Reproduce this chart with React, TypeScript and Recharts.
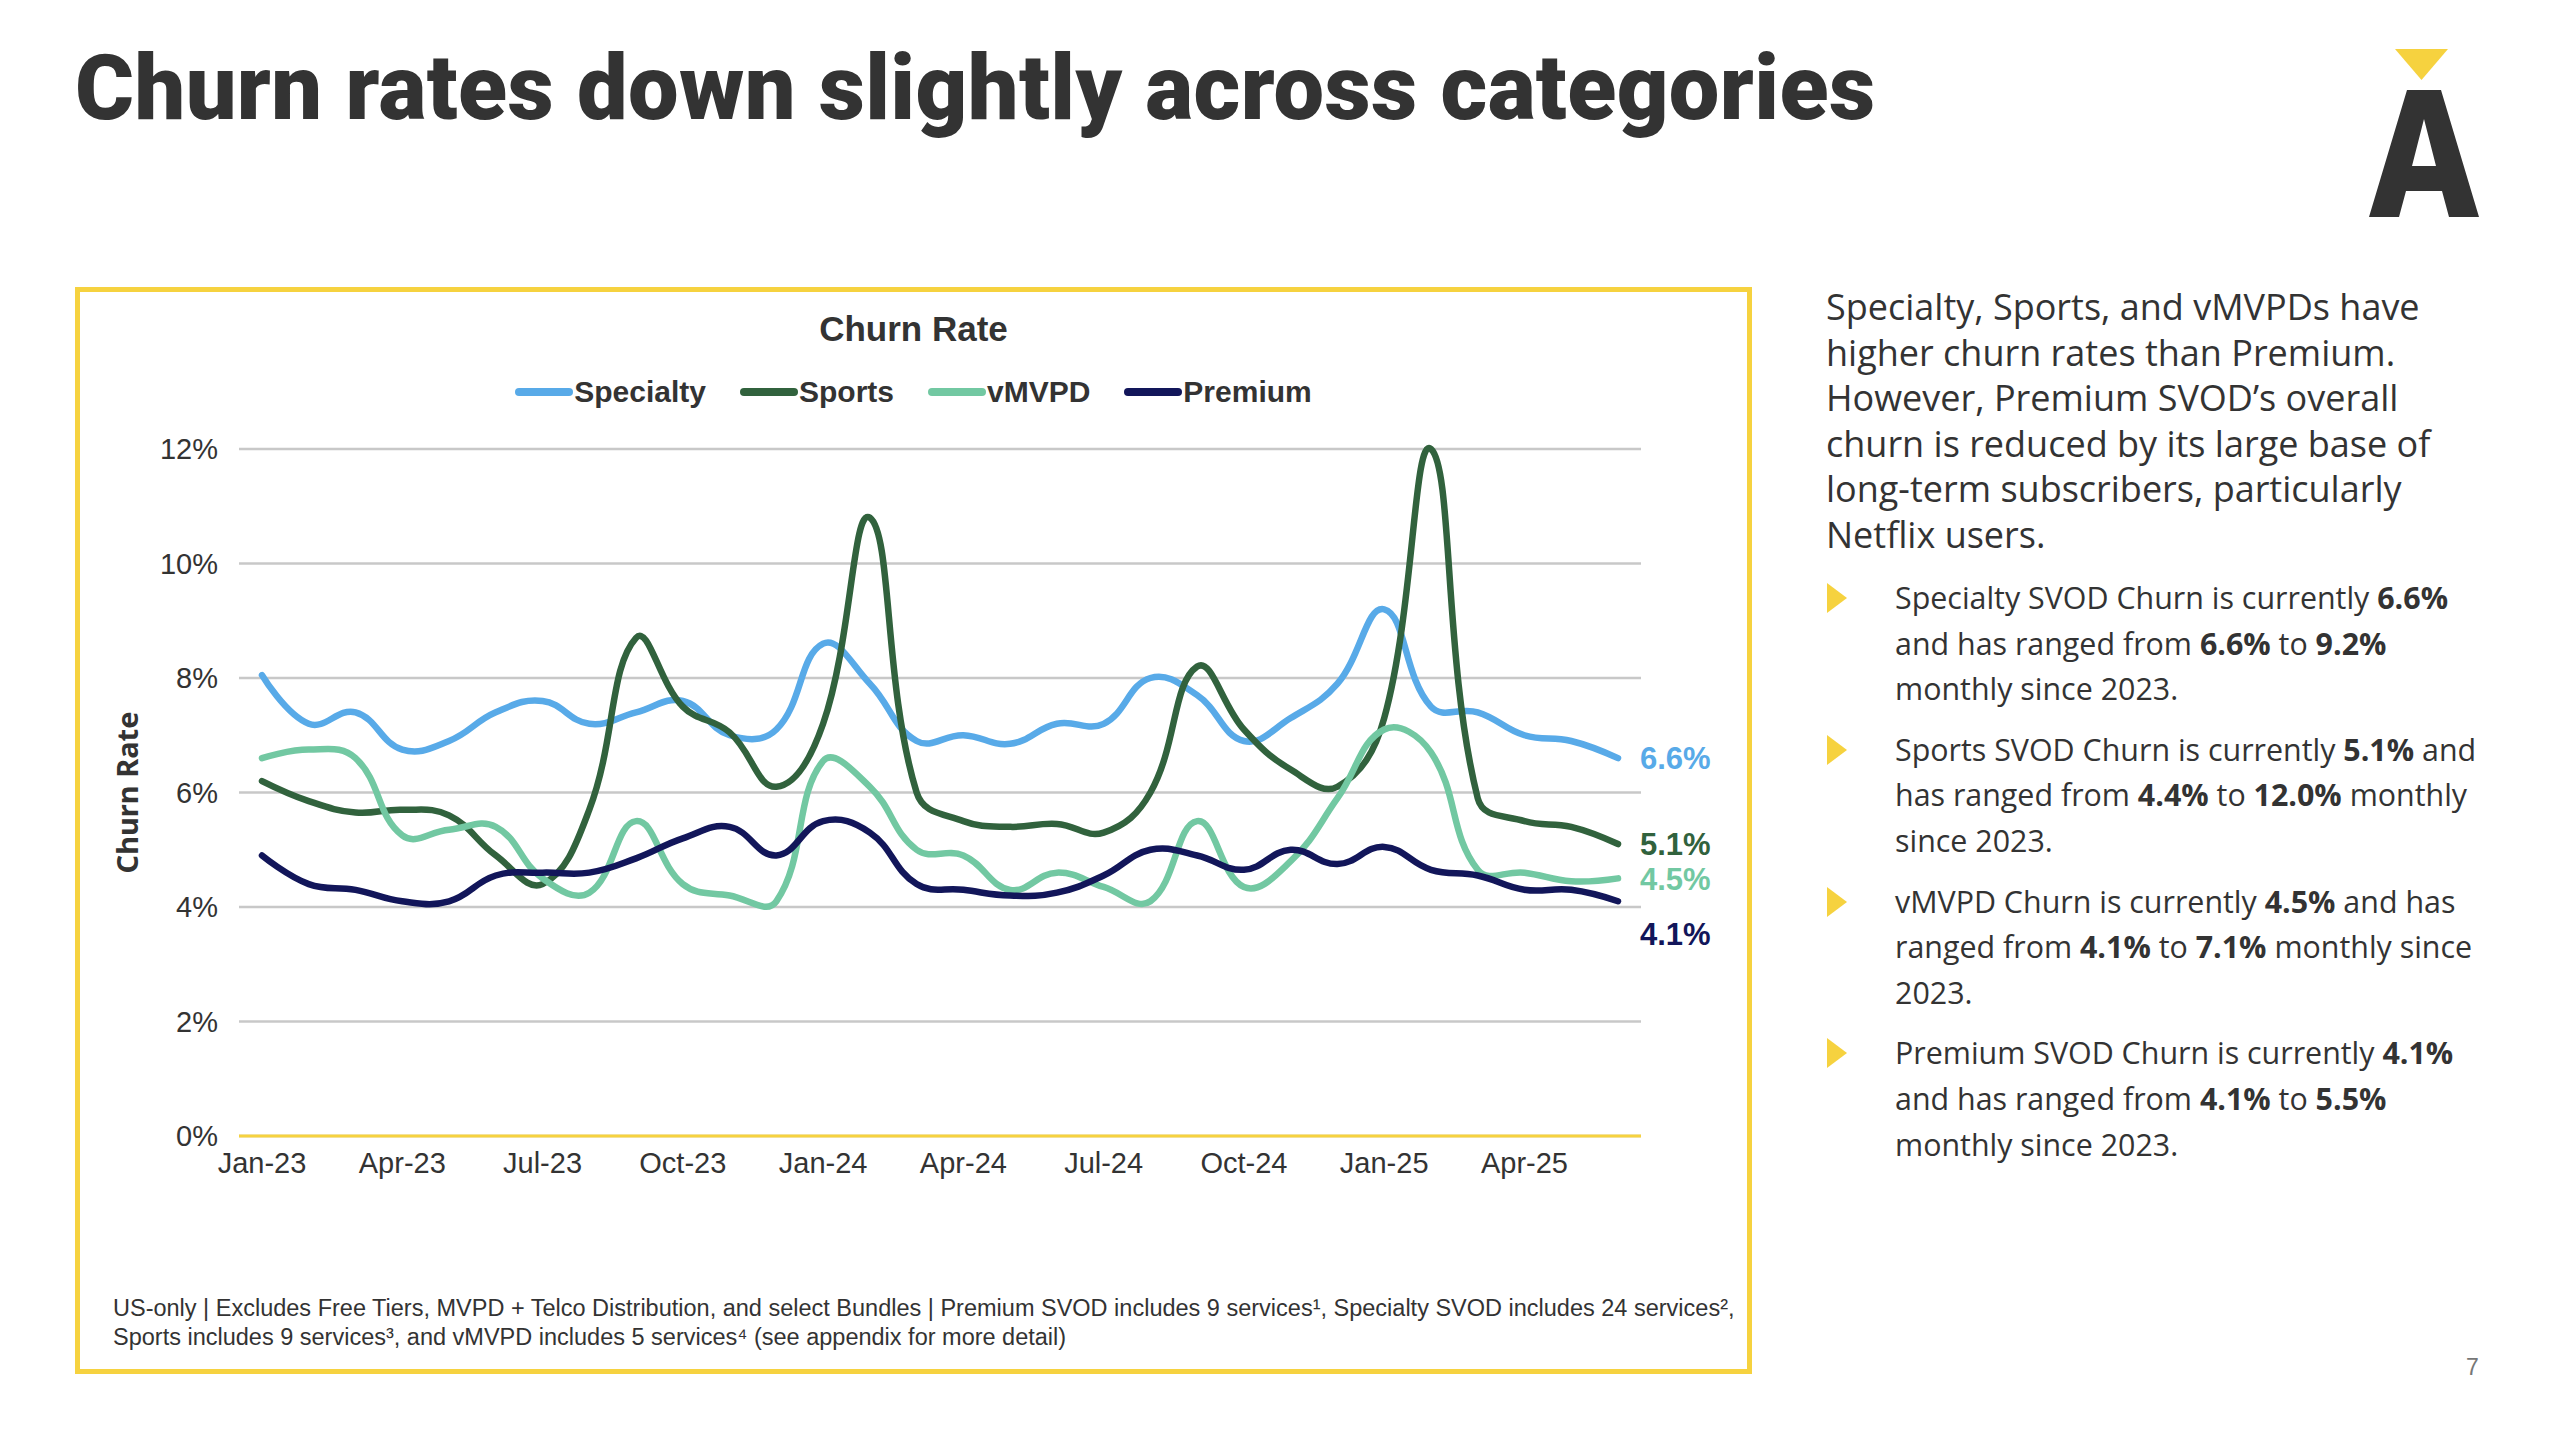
import { LineChart, Line, XAxis, YAxis, CartesianGrid, Legend } from "recharts";

const months = [
  "Jan-23", "Feb-23", "Mar-23", "Apr-23", "May-23", "Jun-23", "Jul-23", "Aug-23", "Sep-23", "Oct-23",
  "Nov-23", "Dec-23", "Jan-24", "Feb-24", "Mar-24", "Apr-24", "May-24", "Jun-24", "Jul-24", "Aug-24",
  "Sep-24", "Oct-24", "Nov-24", "Dec-24", "Jan-25", "Feb-25", "Mar-25", "Apr-25", "May-25", "Jun-25",
];

// monthly churn, %
const specialty = [8.05, 7.2, 7.4, 6.75, 6.9, 7.4, 7.6, 7.2, 7.4, 7.6, 7.0, 7.1, 8.6, 7.9, 6.9, 7.0, 6.85, 7.2, 7.2, 8.0, 7.7, 6.9, 7.3, 7.9, 9.2, 7.5, 7.4, 7.0, 6.9, 6.6];
const sports = [6.2, 5.85, 5.65, 5.7, 5.6, 4.9, 4.4, 5.7, 8.7, 7.5, 7.05, 6.1, 7.2, 10.8, 6.0, 5.5, 5.4, 5.45, 5.3, 6.0, 8.2, 7.1, 6.4, 6.1, 7.3, 12.0, 5.9, 5.5, 5.4, 5.1];
const vmvpd = [6.6, 6.75, 6.6, 5.25, 5.35, 5.4, 4.5, 4.25, 5.5, 4.4, 4.2, 4.1, 6.55, 6.1, 5.0, 4.9, 4.3, 4.6, 4.35, 4.1, 5.5, 4.35, 4.8, 5.9, 7.1, 6.7, 4.65, 4.6, 4.45, 4.5];
const premium = [4.9, 4.4, 4.3, 4.1, 4.1, 4.55, 4.6, 4.6, 4.85, 5.2, 5.4, 4.9, 5.5, 5.3, 4.4, 4.3, 4.2, 4.25, 4.55, 5.0, 4.9, 4.65, 5.0, 4.75, 5.05, 4.65, 4.55, 4.3, 4.3, 4.1];

const yTicks = [0, 2, 4, 6, 8, 10, 12];

const series = [
  { key: "specialty", name: "Specialty", color: "#58AAE8", values: specialty, labelDy: 0 },
  { key: "sports", name: "Sports", color: "#31623D", values: sports, labelDy: 0 },
  { key: "vmvpd", name: "vMVPD", color: "#72C8A2", values: vmvpd, labelDy: 0 },
  { key: "premium", name: "Premium", color: "#12165A", values: premium, labelDy: 33 },
];

const data = months.map((m, i) => {
  const row: Record<string, any> = { month: m };
  series.forEach((s) => (row[s.key] = s.values[i]));
  return row;
});

const YELLOW = "#F6D23F";
const TEXT = "#333333";
const chartFont = "'Liberation Sans', Arial, sans-serif";
const bodyFont = "'Open Sans', 'Noto Sans', sans-serif";

// excel-ish smoothing: bezier with tangents weighted by neighbouring segment lengths
const smooth = (context: any) => {
  let pts: number[][] = [];
  const t = 0.42;
  return {
    areaStart() {},
    areaEnd() {},
    lineStart() {
      pts = [];
    },
    point(x: number, y: number) {
      pts.push([+x, +y]);
    },
    lineEnd() {
      const n = pts.length;
      if (!n) return;
      const before: number[][] = [];
      const after: number[][] = [];
      for (let i = 0; i < n; i++) {
        if (i === 0 || i === n - 1) {
          before[i] = pts[i];
          after[i] = pts[i];
          continue;
        }
        const [x0, y0] = pts[i - 1];
        const [x1, y1] = pts[i];
        const [x2, y2] = pts[i + 1];
        const d01 = Math.hypot(x1 - x0, y1 - y0);
        const d12 = Math.hypot(x2 - x1, y2 - y1);
        const fa = (t * d01) / (d01 + d12);
        const fb = (t * d12) / (d01 + d12);
        before[i] = [x1 - fa * (x2 - x0), y1 - fa * (y2 - y0)];
        after[i] = [x1 + fb * (x2 - x0), y1 + fb * (y2 - y0)];
      }
      context.moveTo(pts[0][0], pts[0][1]);
      for (let i = 0; i < n - 1; i++) {
        context.bezierCurveTo(after[i][0], after[i][1], before[i + 1][0], before[i + 1][1], pts[i + 1][0], pts[i + 1][1]);
      }
    },
  };
};

const endLabel = (color: string, dy: number) => (props: any) => {
  const { x, y, index, value } = props;
  if (index !== months.length - 1) return null;
  return (
    <text
      key={color}
      x={x + 22}
      y={y + dy}
      dy="0.36em"
      fill={color}
      fontSize={31}
      fontWeight={700}
      fontFamily={chartFont}
    >
      {Number(value).toFixed(1)}%
    </text>
  );
};

const LegendRow = () => (
  <div style={{ display: "flex", justifyContent: "center", gap: 34, fontFamily: chartFont }}>
    {series.map((s) => (
      <div key={s.key} style={{ display: "flex", alignItems: "center" }}>
        <div style={{ width: 58, height: 8, borderRadius: 4, background: s.color }} />
        <span style={{ fontSize: 30, fontWeight: 700, color: TEXT, marginLeft: 1 }}>{s.name}</span>
      </div>
    ))}
  </div>
);

const bullets = [
  [
    ["Specialty SVOD Churn is currently ", "6.6%"],
    ["and has ranged from ", "6.6%", " to ", "9.2%"],
    ["monthly since 2023."],
  ],
  [
    ["Sports SVOD Churn is currently ", "5.1%", " and"],
    ["has ranged from ", "4.4%", " to ", "12.0%", " monthly"],
    ["since 2023."],
  ],
  [
    ["vMVPD Churn is currently ", "4.5%", " and has"],
    ["ranged from ", "4.1%", " to ", "7.1%", " monthly since"],
    ["2023."],
  ],
  [
    ["Premium SVOD Churn is currently ", "4.1%"],
    ["and has ranged from ", "4.1%", " to ", "5.5%"],
    ["monthly since 2023."],
  ],
];

const intro = [
  "Specialty, Sports, and vMVPDs have",
  "higher churn rates than Premium.",
  "However, Premium SVOD\u2019s overall",
  "churn is reduced by its large base of",
  "long-term subscribers, particularly",
  "Netflix users.",
];

export default function App() {
  return (
    <div style={{ position: "absolute", left: 0, top: 0, width: 2554, height: 1434, background: "#fff", overflow: "hidden", color: TEXT }}>
      <div style={{ position: "absolute", left: 75, top: 36, fontFamily: "Roboto, sans-serif", fontWeight: 900, fontSize: 90, letterSpacing: 0.4, whiteSpace: "nowrap", color: TEXT }}>
        Churn rates down slightly across categories
      </div>

      {/* logo mark */}
      <svg style={{ position: "absolute", left: 2369, top: 49 }} width={112} height={170}>
        <polygon points="26,0 79,0 52.5,31" fill={YELLOW} />
        <path
          d="M38,41 L72,41 L110,168 L80,168 L73,142 L37,142 L30,168 L0,168 Z M55,70 L67,117 L43,117 Z"
          fill={TEXT}
          fillRule="evenodd"
        />
      </svg>

      <div style={{ position: "absolute", left: 75, top: 287, width: 1677, height: 1087, boxSizing: "border-box", border: `5px solid ${YELLOW}` }} />

      <div style={{ position: "absolute", left: 75, top: 309, width: 1677, textAlign: "center", fontFamily: chartFont, fontWeight: 700, fontSize: 35, color: TEXT }}>
        Churn Rate
      </div>

      <div style={{ position: "absolute", left: 75, top: 287 }}>
        <LineChart width={1677} height={1087} data={data} margin={{ top: 162, right: 111, left: 64, bottom: 178 }}>
          <CartesianGrid vertical={false} stroke="#C8C8C8" strokeWidth={2.5} />
          <XAxis
            dataKey="month"
            interval={2}
            padding={{ left: 23, right: 23 }}
            tickLine={false}
            axisLine={{ stroke: YELLOW, strokeWidth: 3 }}
            tick={{ fill: TEXT, fontSize: 29, fontFamily: chartFont }}
            tickMargin={10}
            height={60}
          />
          <YAxis
            domain={[0, 12]}
            ticks={yTicks}
            tickFormatter={(v) => `${v}%`}
            axisLine={false}
            tickLine={false}
            tick={{ fill: TEXT, fontSize: 29, fontFamily: chartFont }}
            tickMargin={15}
            width={100}
            label={{
              value: "Churn Rate",
              angle: -90,
              position: "insideLeft",
              offset: -11,
              style: { fill: TEXT, fontSize: 29, fontWeight: 700, fontFamily: "'Noto Sans', sans-serif", textAnchor: "middle" },
            }}
          />
          <Legend
            verticalAlign="middle"
            align="center"
            layout="horizontal"
            wrapperStyle={{ top: 88, left: 0, width: 1677 }}
            content={<LegendRow />}
          />
          {series.map((s) => (
            <Line
              key={s.key}
              dataKey={s.key}
              name={s.name}
              stroke={s.color}
              strokeWidth={6.5}
              strokeLinecap="round"
              type={smooth as any}
              dot={false}
              activeDot={false}
              isAnimationActive={false}
              label={endLabel(s.color, s.labelDy)}
            />
          ))}
        </LineChart>
      </div>

      <div style={{ position: "absolute", left: 113, top: 1294, fontFamily: chartFont, fontSize: 23.5, lineHeight: "29px", color: TEXT, whiteSpace: "nowrap" }}>
        <div>US-only | Excludes Free Tiers, MVPD + Telco Distribution, and select Bundles | Premium SVOD includes 9 services¹, Specialty SVOD includes 24 services²,</div>
        <div>Sports includes 9 services³, and vMVPD includes 5 services⁴ (see appendix for more detail)</div>
      </div>

      <div style={{ position: "absolute", left: 1826, top: 284, fontFamily: bodyFont, fontSize: 36, lineHeight: "45.6px", color: TEXT, whiteSpace: "nowrap" }}>
        {intro.map((l) => (
          <div key={l}>{l}</div>
        ))}
      </div>

      {bullets.map((b, bi) => (
        <div key={bi} style={{ position: "absolute", left: 1827, top: 575 + bi * 151.8 }}>
          <svg style={{ position: "absolute", left: 0, top: 8 }} width={22} height={32}>
            <polygon points="0,0 20,15 0,30" fill={YELLOW} />
          </svg>
          <div style={{ position: "absolute", left: 68, top: 0, fontFamily: bodyFont, fontSize: 30.4, lineHeight: "45.6px", color: TEXT, whiteSpace: "nowrap" }}>
            {b.map((line, li) => (
              <div key={li}>
                {line.map((part, pi) =>
                  /%/.test(part) ? <b key={pi}>{part}</b> : <span key={pi}>{part}</span>
                )}
              </div>
            ))}
          </div>
        </div>
      ))}

      <div style={{ position: "absolute", left: 2466, top: 1354, fontFamily: chartFont, fontSize: 23, color: "#777" }}>7</div>
    </div>
  );
}
